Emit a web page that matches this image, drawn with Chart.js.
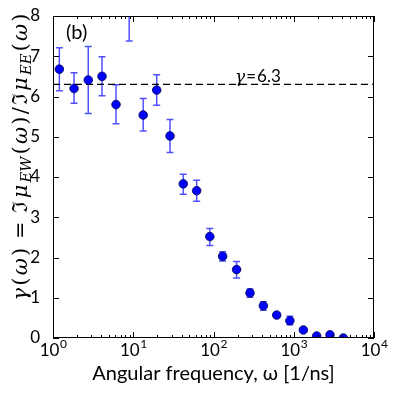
<!DOCTYPE html>
<html>
<head>
<meta charset="utf-8">
<script src="https://cdn.jsdelivr.net/npm/chart.js@4/dist/chart.umd.min.js"></script>
<style>
  html, body { margin: 0; padding: 0; background: #fff; }
  #wrap { width: 399px; height: 397px; position: relative; }
</style>
</head>
<body>
<div id="wrap"><canvas id="chart" width="399" height="397"></canvas></div>
<script>
// angular frequency (1/ns) and gamma ratio
const omega = [1.2, 1.83, 2.75, 4.08, 6.1, 8.9, 13.3, 19.6, 28.7, 42, 61.7, 90, 130, 194, 285, 418, 613, 895, 1318, 1930, 2830, 4150];
const gamma = [6.68, 6.20, 6.41, 6.50, 5.80, 8.3, 5.54, 6.16, 5.02, 3.83, 3.66, 2.52, 2.03, 1.70, 1.12, 0.80, 0.57, 0.43, 0.20, 0.05, 0.08, 0.0];
const gammaLow = [6.14, 5.83, 5.58, 6.02, 5.32, 7.38, 5.14, 5.78, 4.61, 3.57, 3.40, 2.30, 1.91, 1.49, 1.01, 0.69, 0.52, 0.33, 0.17, 0.02, 0.05, -0.02];
const gammaHigh = [7.21, 6.59, 7.24, 6.99, 6.29, 9.2, 5.95, 6.54, 5.43, 4.07, 3.92, 2.72, 2.14, 1.90, 1.22, 0.90, 0.62, 0.54, 0.23, 0.08, 0.11, 0.02];
const gammaRef = 6.3;
const xDecades = [1, 10, 100, 1000, 10000];
const yTicks = [0, 1, 2, 3, 4, 5, 6, 7, 8];

const SANS = 'Lato, "DejaVu Sans", sans-serif';
const SERIF = '"DejaVu Serif", serif';

// draw a run of text pieces (italic / subscript) starting at x, with optional extra gap between pieces
function drawPieces(ctx, pieces, x, y, size, measureOnly, gap) {
    gap = gap || 0;
    let cx = x;
    pieces.forEach((p, i) => {
        const s = p.sub ? size * 0.7 : size;
        ctx.font = (p.italic ? 'italic ' : '') + s + 'px ' + (p.sans ? SANS : SERIF);
        const w = ctx.measureText(p.t).width;
        if (!measureOnly) ctx.fillText(p.t, cx, y + (p.sub ? size * 0.18 : 0));
        cx += w + (i < pieces.length - 1 ? gap : 0);
    });
    return cx - x;
}

const yTitle = [
    { t: 'γ', italic: true }, { t: '(' }, { t: 'ω', italic: true }, { t: ')' },
    { t: ' = ' }, { t: 'ℑ' }, { t: 'μ', italic: true }, { t: 'EW', italic: true, sub: true },
    { t: '(' }, { t: 'ω', italic: true }, { t: ')' }, { t: '/' },
    { t: 'ℑ' }, { t: 'μ', italic: true }, { t: 'EE', italic: true, sub: true },
    { t: '(' }, { t: 'ω', italic: true }, { t: ')' }
];

const decorPlugin = {
    id: 'decor',
    beforeDatasetsDraw(chart) {
        const { ctx, chartArea: a, scales: { x, y } } = chart;
        ctx.save();
        ctx.beginPath();
        ctx.rect(a.left, a.top, a.right - a.left, a.bottom - a.top);
        ctx.clip();
        ctx.strokeStyle = 'rgba(50,50,255,0.85)';
        ctx.lineWidth = 1.5;
        omega.forEach((w, i) => {
            const px = x.getPixelForValue(w);
            const y1 = y.getPixelForValue(gammaLow[i]);
            const y2 = y.getPixelForValue(gammaHigh[i]);
            ctx.beginPath();
            ctx.moveTo(px, y1); ctx.lineTo(px, y2);
            ctx.moveTo(px - 3.5, y1); ctx.lineTo(px + 3.5, y1);
            ctx.moveTo(px - 3.5, y2); ctx.lineTo(px + 3.5, y2);
            ctx.stroke();
        });
        ctx.restore();
    },
    afterDraw(chart) {
        const { ctx, chartArea: a, scales: { x, y } } = chart;
        ctx.save();
        ctx.strokeStyle = '#000';
        ctx.lineWidth = 1;
        ctx.strokeRect(a.left + 0.5, a.top + 0.5, a.right - a.left - 1, a.bottom - a.top - 1);

        // log ticks on bottom and top, pointing inward
        ctx.beginPath();
        for (let d = 0; d < 4; d++) {
            for (let k = 1; k <= 10; k++) {
                const v = Math.pow(10, d) * k;
                const px = Math.round(x.getPixelForValue(v)) + 0.5;
                const len = (k === 1 || k === 10) ? 6 : 3;
                ctx.moveTo(px, a.bottom); ctx.lineTo(px, a.bottom - len);
                ctx.moveTo(px, a.top); ctx.lineTo(px, a.top + len);
            }
        }
        yTicks.forEach(v => {
            const py = Math.round(y.getPixelForValue(v)) + 0.5;
            ctx.moveTo(a.left, py); ctx.lineTo(a.left + 6, py);
            ctx.moveTo(a.right, py); ctx.lineTo(a.right - 6, py);
        });
        ctx.stroke();

        // x tick labels 10^n
        ctx.fillStyle = '#000';
        ctx.textBaseline = 'alphabetic';
        xDecades.forEach((v, i) => {
            ctx.font = '17px ' + SANS;
            const wBase = ctx.measureText('10').width;
            ctx.font = '12px ' + SANS;
            const wExp = ctx.measureText(String(i)).width;
            const px = x.getPixelForValue(v);
            const x0 = px - (wBase + wExp) / 2;
            ctx.font = '17px ' + SANS;
            ctx.fillText('10', x0, 356);
            ctx.font = '12px ' + SANS;
            ctx.fillText(String(i), x0 + wBase + 0.5, 348);
        });

        // y title, rotated; spread to the reference length
        ctx.save();
        ctx.translate(27, 157);
        ctx.rotate(-Math.PI / 2);
        const size = 21;
        const w0 = drawPieces(ctx, yTitle, 0, 0, size, true, 0);
        const gap = Math.max(0, (287 - w0) / (yTitle.length - 1));
        const w1 = drawPieces(ctx, yTitle, 0, 0, size, true, gap);
        drawPieces(ctx, yTitle, -w1 / 2, 0, size, false, gap);
        ctx.restore();

        // panel label
        ctx.font = '20px ' + SANS;
        ctx.fillText('(b)', 66, 39);

        // reference line label
        drawPieces(ctx, [{ t: 'γ', italic: true }, { t: '=', sans: true }, { t: '6.3', sans: true }], 235, 82, 17, false, 1);
        ctx.restore();
    }
};

new Chart(document.getElementById('chart'), {
    type: 'scatter',
    data: {
        datasets: [
            {
                data: omega.map((w, i) => ({ x: w, y: gamma[i] })),
                backgroundColor: '#0000ff',
                borderColor: '#00004d',
                borderWidth: 0.8,
                pointRadius: 4.3,
                clip: 0,
                order: 1
            },
            {
                data: [{ x: 1, y: gammaRef }, { x: 10000, y: gammaRef }],
                showLine: true,
                borderColor: '#000',
                borderWidth: 1.2,
                borderDash: [7, 4],
                pointRadius: 0,
                clip: 0,
                order: 2
            }
        ]
    },
    plugins: [decorPlugin],
    options: {
        responsive: false,
        animation: false,
        events: [],
        layout: { padding: { left: 0, right: 25, top: 16, bottom: 0 } },
        plugins: { legend: { display: false }, tooltip: { enabled: false } },
        scales: {
            x: {
                type: 'logarithmic',
                min: 1,
                max: 10000,
                grid: { display: false },
                border: { display: false },
                ticks: { display: false },
                afterFit(s) { s.height = 59; },
                title: {
                    display: true,
                    text: 'Angular frequency, ω [1/ns]',
                    color: '#000',
                    font: { family: SANS, size: 20 },
                    padding: { top: 0, bottom: 11 }
                }
            },
            y: {
                min: 0,
                max: 8,
                grid: { display: false },
                border: { display: false },
                afterBuildTicks(s) { s.ticks = yTicks.map(v => ({ value: v })); },
                afterFit(s) { s.width = 53; },
                ticks: {
                    color: '#000',
                    padding: 5,
                    font: { family: SANS, size: 17 }
                }
            }
        }
    }
});
</script>
</body>
</html>
